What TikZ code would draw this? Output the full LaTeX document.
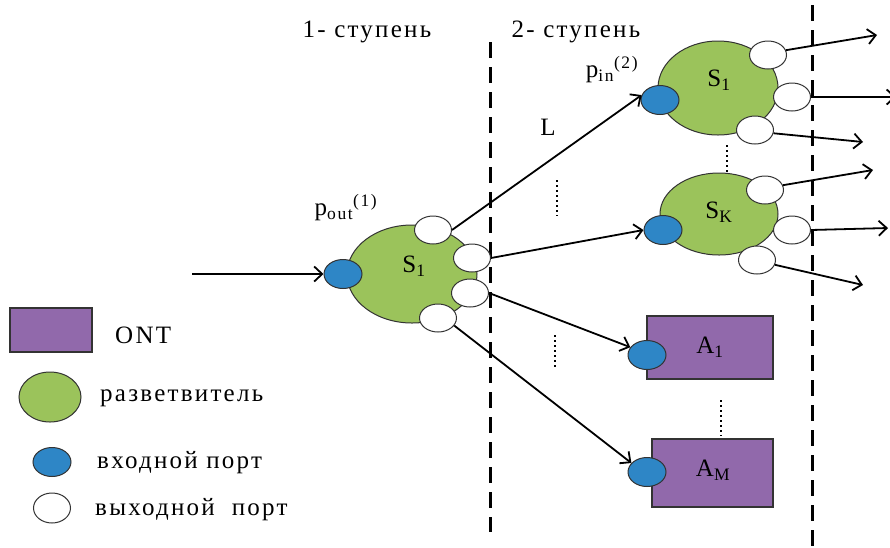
\documentclass[tikz,border=0pt]{standalone}
\usepackage{fontspec}
\setmainfont{Liberation Serif}[LetterSpace=9]
\usepackage{amsmath}
\usetikzlibrary{shapes.geometric,arrows.meta}
\definecolor{splitgreen}{HTML}{9BC35B}
\definecolor{portblue}{HTML}{2E86C6}
\definecolor{ontpurple}{HTML}{9169AB}
\definecolor{edgegray}{HTML}{333333}
\tikzset{
  splitter/.style={ellipse, draw=edgegray, fill=splitgreen, line width=1pt, inner sep=0pt},
  inport/.style={ellipse, draw=edgegray, fill=portblue, line width=1pt, minimum width=38pt, minimum height=29pt, inner sep=0pt},
  outport/.style={ellipse, draw=edgegray, fill=white, line width=1pt, minimum width=37pt, minimum height=28pt, inner sep=0pt},
  ontbox/.style={rectangle, draw=edgegray, fill=ontpurple, line width=1.5pt, inner sep=0pt},
  link/.style={line width=1.8pt, -{Straight Barb[length=8pt,width=15pt,line width=1.8pt]}},
  stageline/.style={line width=3pt, dash pattern=on 16pt off 9pt},
  dots/.style={line width=2.4pt, dash pattern=on 2.4pt off 2.6pt},
  lbl/.style={inner sep=0pt},
}
\begin{document}
\begin{tikzpicture}[x=1pt,y=-1pt,font=\fontsize{25}{29}\selectfont]
\useasboundingbox (0,0) rectangle (890,547);
% stage lines
\draw[stageline] (490,42) -- (490,532);
\draw[stageline] (812,5) -- (812,547);
% stage labels
\node[lbl] (st1) at (367,32) {1- ступень};
\node[lbl] (st2) at (576,32) {2- ступень};
% main splitter
\node[splitter, minimum width=130pt, minimum height=98pt] (s1) at (412,274) {};
\node[lbl] (s1l) at (414,266) {S$_{\text{1}}$};
\node[inport] (b1) at (343,274) {};
\node[outport] (p1) at (433,230) {};
\node[outport] (p2) at (472,258) {};
\node[outport] (p3) at (470,293) {};
\node[outport] (p4) at (438,318) {};
\node[lbl] (pout) at (346,208) {p$_{\text{out}}{}^{\text{(1)}}$};
\coordinate (inl) at (192,274);
\draw[link] (inl) -- (b1.west);
% stage 2 splitter S1
\node[splitter, minimum width=120pt, minimum height=94pt] (s2) at (718,88) {};
\node[lbl] (s2l) at (719,80) {S$_{\text{1}}$};
\node[inport] (b2) at (660,100) {};
\node[outport] (o1) at (768,55) {};
\node[outport] (o2) at (792,97) {};
\node[outport] (o3) at (755,130) {};
\node[lbl] (pin) at (612,70) {p$_{\text{in}}{}^{\text{(2)}}$};
% stage 2 splitter SK
\node[splitter, minimum width=118pt, minimum height=82pt] (sk) at (719,214) {};
\node[lbl] (skl) at (719,212) {S$_{\text{K}}$};
\node[inport] (bk) at (663,230) {};
\node[outport] (o4) at (765,190) {};
\node[outport] (o5) at (792,230) {};
\node[outport] (o6) at (757,260) {};
% ONT boxes
\node[ontbox, minimum width=126pt, minimum height=63pt] (a1) at (710,347.5) {};
\node[lbl] (a1l) at (710,347) {A$_{\text{1}}$};
\node[inport] (ba1) at (647,355) {};
\node[ontbox, minimum width=121pt, minimum height=68pt] (am) at (712.5,473) {};
\node[lbl] (aml) at (713,470) {A$_{\text{M}}$};
\node[inport] (bam) at (647,472) {};
% links stage 1 -> stage 2
\draw[link] (p1.east) -- (b2.165);
\draw[link] (p2.east) -- (bk.west);
\draw[link] (p3.east) -- (ba1.155);
\draw[link] (p4.-25) -- (bam.150);
\node[lbl] (L) at (548,127) {L};
% outgoing arrows
\coordinate (e1) at (877,35);
\coordinate (e2) at (896,97);
\coordinate (e3) at (863,142);
\coordinate (e4) at (873,170);
\coordinate (e5) at (888,228);
\coordinate (e6) at (863,285);
\draw[link] (o1.15) -- (e1);
\draw[link] (o2.east) -- (e2);
\draw[link] (o3.-10) -- (e3);
\draw[link] (o4.15) -- (e4);
\draw[link] (o5.east) -- (e5);
\draw[link] (o6.-15) -- (e6);
% dotted continuations
\draw[dots] (727,145) -- (727,173);
\draw[dots] (557,180) -- (557,216);
\draw[dots] (555,335) -- (555,369);
\draw[dots] (721,400) -- (721,436);
% legend
\node[ontbox, minimum width=82pt, minimum height=44pt] (lg1) at (51,330) {};
\node[lbl, anchor=west] (lt1) at (115,335) {ONT};
\node[splitter, minimum width=62pt, minimum height=50pt] (lg2) at (50,397) {};
\node[lbl, anchor=west] (lt2) at (100,398) {разветвитель};
\node[inport] (lg3) at (52,462) {};
\node[lbl, anchor=west] (lt3) at (97,463) {входной порт};
\node[outport, minimum height=30pt] (lg4) at (52,508) {};
\node[lbl, anchor=west] (lt4) at (95,510) {выходной~ порт};
\end{tikzpicture}
\end{document}
